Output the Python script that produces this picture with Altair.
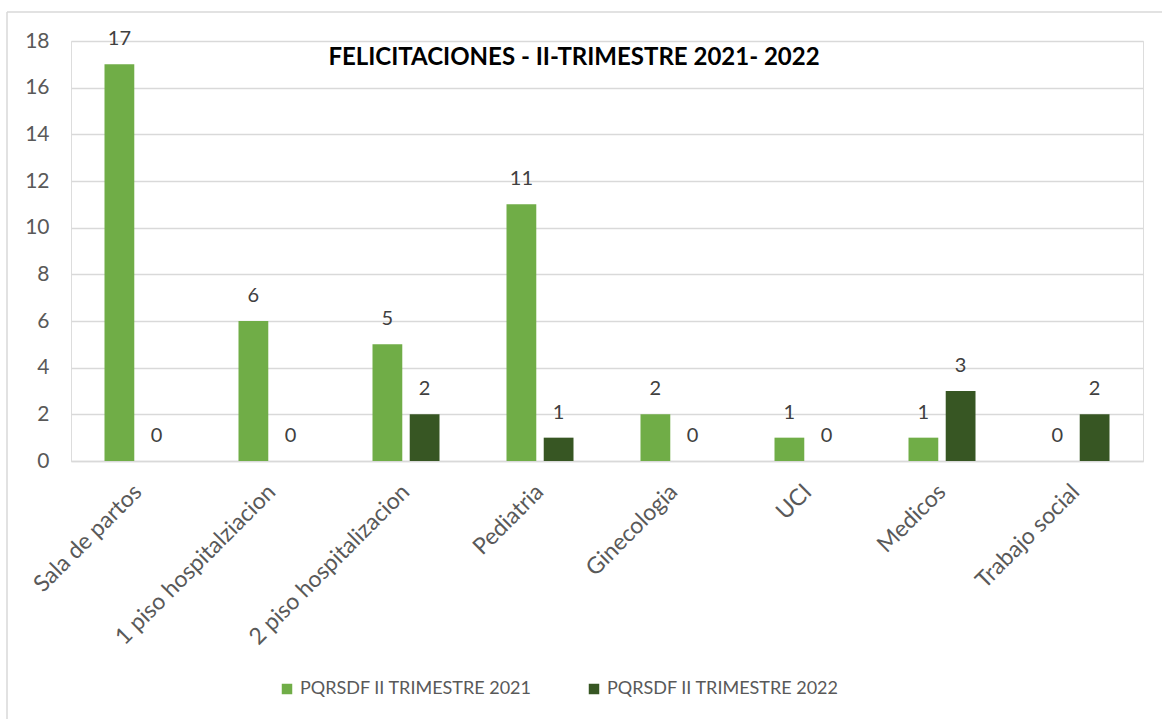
import altair as alt
import pandas as pd

categories = ["Sala de partos", "1 piso hospitalziacion", "2 piso hospitalizacion",
              "Pediatria", "Ginecologia", "UCI", "Medicos", "Trabajo social"]
series_names = ["PQRSDF II TRIMESTRE 2021", "PQRSDF II TRIMESTRE 2022"]
values_2021 = [17, 6, 5, 11, 2, 1, 1, 0]
values_2022 = [0, 0, 2, 1, 0, 0, 3, 2]
colors = ["#70AD47", "#375623"]
y_ticks = [0, 2, 4, 6, 8, 10, 12, 14, 16, 18]
title_text = "FELICITACIONES - II-TRIMESTRE 2021- 2022"

rows = []
for c, v in zip(categories, values_2021):
    rows.append({"cat": c, "serie": series_names[0], "val": v})
for c, v in zip(categories, values_2022):
    rows.append({"cat": c, "serie": series_names[1], "val": v})
df = pd.DataFrame(rows)

FONT = "Lato"
W, H = 1072, 420

x_enc = alt.X("cat:N", sort=categories, title=None,
              scale=alt.Scale(paddingInner=0.5, paddingOuter=0.25),
              axis=alt.Axis(labelAngle=-45, labelAlign="right", labelBaseline="middle",
                            labelPadding=27, labelFontSize=23, labelColor="#595959",
                            labelFont=FONT, ticks=False, domainColor="#d9d9d9",
                            domainWidth=1.5, grid=False, labelLimit=400))
xo_enc = alt.XOffset("serie:N", sort=series_names, scale=alt.Scale(paddingInner=0.2))
y_enc = alt.Y("val:Q", title=None,
              scale=alt.Scale(domain=[0, 18], nice=False),
              axis=alt.Axis(values=y_ticks, labelFontSize=21, labelColor="#595959",
                            labelFont=FONT, ticks=False, domain=False,
                            gridColor="#d9d9d9", gridWidth=1.5, labelPadding=22))
color_enc = alt.Color("serie:N", sort=series_names,
                      scale=alt.Scale(domain=series_names, range=colors),
                      legend=alt.Legend(title=None, orient="none", direction="horizontal",
                                        legendX=207, legendY=639, columns=2,
                                        columnPadding=53, symbolType="square",
                                        symbolSize=110, symbolStrokeWidth=0,
                                        labelFontSize=18, labelColor="#595959",
                                        labelFont=FONT, labelLimit=400, padding=0))

base = alt.Chart(df)

bars = base.mark_bar().encode(x=x_enc, xOffset=xo_enc, y=y_enc, color=color_enc)

labels = base.mark_text(dy=-25, baseline="middle", fontSize=20, font=FONT,
                        color="#404040").encode(
    x=alt.X("cat:N", sort=categories),
    xOffset=alt.XOffset("serie:N", sort=series_names),
    y=alt.Y("val:Q"),
    text=alt.Text("val:Q"),
)

one = pd.DataFrame({"a": [0]})
border_left = alt.Chart(one).mark_rule(color="#d9d9d9", strokeWidth=1.5).encode(
    x=alt.value(-64), y=alt.value(-29), y2=alt.value(800))
border_top = alt.Chart(one).mark_rule(color="#d9d9d9", strokeWidth=1.5).encode(
    x=alt.value(-64), x2=alt.value(1200), y=alt.value(-29))

chart = alt.layer(border_left, border_top, bars, labels).properties(
    width=W, height=H,
    title=alt.TitleParams(title_text, font=FONT, fontSize=24, fontWeight="bold",
                          color="#000000", anchor="middle", offset=0, dy=59, dx=-33),
    padding={"left": 71, "top": 41, "right": 19, "bottom": 258},
    autosize=alt.AutoSizeParams(type="none"),
).configure_view(stroke=None).configure(background="white")

chart.save("out.html", embed_options={"renderer": "svg", "actions": False})
